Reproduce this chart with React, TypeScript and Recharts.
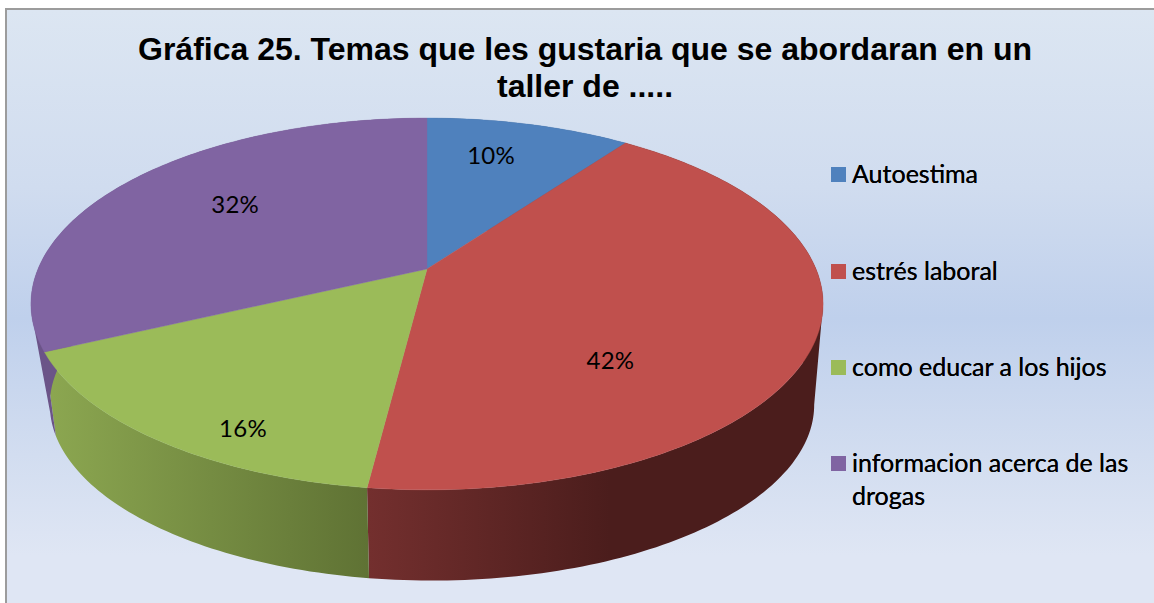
import React from "react";
import { PieChart, Pie, Legend } from "recharts";

const categories = ["Autoestima", "estrés laboral", "como educar a los hijos", "informacion acerca de las drogas"];
const values = [10, 42, 16, 32];
const percentLabels = ["10%", "42%", "16%", "32%"];
const colors = ["#4f81bd", "#c0504d", "#9bbb59", "#8064a2"];
const titleLines = ["Gráfica 25. Temas que les gustaria que se abordaran en un", "taller de ....."];

const rows = categories.map((name, i) => ({ name, value: values[i], fill: colors[i], text: percentLabels[i] }));

// Perspective projection of the round pie on to the slanted top and bottom faces.
const TOP = { dx: 0, dy: 0, sx: 1, sy: 0.461, k: 0.188 };
const BOTTOM = { dx: 5, dy: 88.3, sx: 0.946, sy: 0.419, k: 0.27 };
type Pt = { x: number; y: number };
const project = (cx: number, cy: number, r: number, deg: number, f: typeof TOP): Pt => {
  const a = ((90 - deg) * Math.PI) / 180;
  const rel = r / 389;
  const d = 1 + f.k * rel * Math.cos(a);
  return {
    x: cx + f.dx + (f.sx * r * Math.sin(a)) / d,
    y: cy + f.dy - (f.sy * r * Math.cos(a)) / d,
  };
};
const arc = (p: any, f: typeof TOP) => {
  const n = Math.max(2, Math.ceil(Math.abs(p.endAngle - p.startAngle)));
  const pts: Pt[] = [];
  for (let i = 0; i <= n; i++) {
    pts.push(project(p.cx, p.cy, p.outerRadius, p.startAngle + ((p.endAngle - p.startAngle) * i) / n, f));
  }
  return pts;
};
const toPath = (pts: Pt[]) =>
  pts.map((q, i) => `${i ? "L" : "M"}${q.x.toFixed(2)} ${q.y.toFixed(2)}`).join(" ") + " Z";

const TopFace = (p: any) => (
  <path d={toPath([{ x: p.cx, y: p.cy }, ...arc(p, TOP)])} fill={p.fill} stroke={p.fill} strokeWidth={0.4} />
);

// The wall is swept as small quads of one winding, so that its silhouette is filled too.
const sweep = (p: any) => {
  const t = arc(p, TOP);
  const b = arc(p, BOTTOM);
  const parts: string[] = [];
  for (let i = 0; i < t.length - 1; i++) {
    const q = [t[i], t[i + 1], b[i + 1], b[i]];
    let area = 0;
    q.forEach((u, j) => {
      const v = q[(j + 1) % 4];
      area += u.x * v.y - v.x * u.y;
    });
    parts.push(toPath(area < 0 ? q.reverse() : q));
  }
  return parts.join(" ");
};

const wallPaint: Record<string, { id: string; from: string; to: string; x1: number; x2: number }> = {
  "#c0504d": { id: "wallRed", from: "#732f2e", to: "#4b1d1c", x1: 369, x2: 610 },
  "#9bbb59": { id: "wallGreen", from: "#8ba650", to: "#5f7234", x1: 53, x2: 369 },
  "#8064a2": { id: "wallPurple", from: "#6b5488", to: "#6b5488", x1: 30, x2: 60 },
  "#4f81bd": { id: "wallBlue", from: "#3a5f8c", to: "#3a5f8c", x1: 427, x2: 625 },
};
const WallFace = (p: any) => {
  const w = wallPaint[p.fill];
  return (
    <g>
      <defs>
        <linearGradient id={w.id} gradientUnits="userSpaceOnUse" x1={w.x1} x2={w.x2} y1={0} y2={0}>
          <stop offset="0" stopColor={w.from} />
          <stop offset="1" stopColor={w.to} />
        </linearGradient>
      </defs>
      <path d={sweep(p)} fill={`url(#${w.id})`} />
    </g>
  );
};

const labelNudge = [
  { x: -1, y: -22.5 },
  { x: -43, y: 49 },
  { x: -33, y: 63 },
  { x: -6, y: -11 },
];
const PercentLabel = (p: any) => {
  const c = project(p.cx, p.cy, p.outerRadius * 0.6, p.midAngle, TOP);
  const n = labelNudge[p.index];
  return (
    <text x={c.x + n.x} y={c.y + n.y} textAnchor="middle" dominantBaseline="central"
      fontFamily="Lato, sans-serif" fontSize={24} letterSpacing={0.3} fill="#000">
      {p.payload.text}
    </text>
  );
};

const rowTops = [157, 254, 350, 446];
const LegendBox = ({ payload }: any) => (
  <div style={{ position: "relative", width: 323, height: 400 }}>
    {(payload || []).map((e: any) => {
      const i = categories.indexOf(e.value);
      return (
        <div key={e.value} style={{ position: "absolute", left: 0, top: rowTops[i] - 160 }}>
          <span style={{ position: "absolute", left: 0, top: 10, width: 15, height: 15, background: e.color }} />
          <div style={{ marginLeft: 21, width: 290, fontFamily: "Lato, sans-serif", fontSize: 25, lineHeight: "33px", color: "#000" }}>
            {e.value}
          </div>
        </div>
      );
    })}
  </div>
);

export default function App() {
  return (
    <div style={{ position: "absolute", left: 0, top: 0, width: 1154, height: 603, background: "#fff", overflow: "hidden" }}>
      <div
        style={{
          position: "absolute", left: 5, top: 8, width: 1149, height: 595, boxSizing: "border-box",
          borderLeft: "2px solid #9c9c9c", borderTop: "2px solid #9c9c9c",
          background: "linear-gradient(180deg,#dce6f2 0%,#d0dcef 30%,#bfd0ec 52%,#d2ddf0 75%,#dfe6f4 92%,#dfe6f4 100%)",
        }}
      />
      <div style={{ position: "absolute", left: 0, top: 0 }}>
        <PieChart width={1154} height={603} margin={{ top: 0, right: 0, bottom: 0, left: 0 }}>
          <Pie data={rows} dataKey="value" nameKey="name" cx={427} cy={269} outerRadius={389}
            startAngle={90} endAngle={-270} isAnimationActive={false} legendType="none"
            labelLine={false} shape={WallFace} />
          <Pie data={rows} dataKey="value" nameKey="name" cx={427} cy={269} outerRadius={389}
            startAngle={90} endAngle={-270} isAnimationActive={false}
            labelLine={false} label={PercentLabel} shape={TopFace} />
          <Legend itemSorter={null} content={LegendBox} wrapperStyle={{ position: "absolute", left: 831, top: 160, width: 323, bottom: "auto" }} />
        </PieChart>
      </div>
      <div style={{ position: "absolute", left: 0, top: 31, width: 1170, textAlign: "center", fontFamily: "'Liberation Sans', Arial, sans-serif", fontWeight: 700, fontSize: 32, lineHeight: "37px", color: "#000", whiteSpace: "nowrap" }}>
        {titleLines.map((t) => <div key={t}>{t}</div>)}
      </div>
    </div>
  );
}
